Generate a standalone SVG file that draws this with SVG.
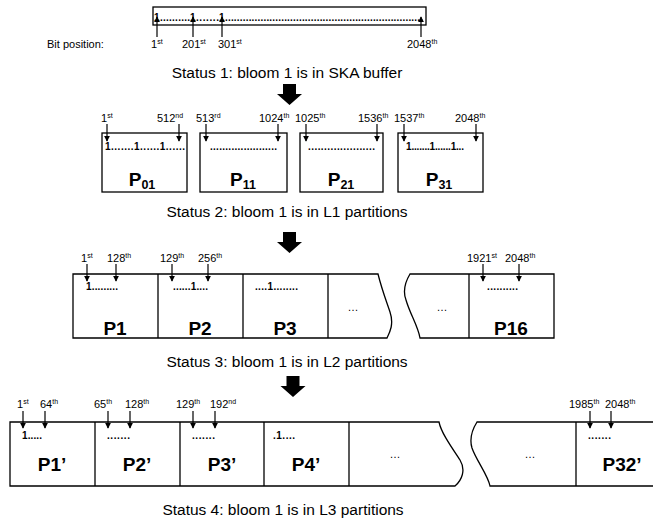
<svg xmlns="http://www.w3.org/2000/svg" width="653" height="525" viewBox="0 0 653 525">
<style>
text{font-family:"Liberation Sans",Arial,sans-serif;fill:#000}
.st{font-size:15.5px}
.lb{font-size:11px}
.sp{font-size:7px}
.dt{font-size:10px;font-weight:bold}
.p{font-size:19px;font-weight:bold}
.ps{font-size:12.5px;font-weight:bold}
.el{font-size:11px}
.box{fill:#fff;stroke:#000;stroke-width:1.3}
.ln{fill:none;stroke:#000;stroke-width:1.3}
.ar{fill:none;stroke:#000;stroke-width:1.2}
</style>
<defs>
<marker id="ah" viewBox="0 0 8 8" refX="7" refY="4" markerWidth="6" markerHeight="6" orient="auto" markerUnits="userSpaceOnUse">
<path d="M0,0 L8,4 L0,8 z" fill="#000"/>
</marker>
<polygon id="bigarrow" points="-6.5,0 6.5,0 6.5,10 12.5,10 0,21 -12.5,10 -6.5,10" fill="#000"/>
</defs>

<g id="buffer">
<rect class="box" x="153" y="7" width="273" height="18"/>
<text class="dt" x="154" y="21">1</text>
<text class="dt" x="160" y="21" textLength="30" lengthAdjust="spacing">..........</text>
<text class="dt" x="190" y="21">1</text>
<text class="dt" x="196" y="21" textLength="23" lengthAdjust="spacing">.......</text>
<text class="dt" x="219" y="21">1</text>
<text class="dt" x="225" y="21" textLength="198" lengthAdjust="spacing">...................................................................</text>
</g>

<g id="bitlabels">
<text class="lb" x="47" y="48">Bit position:</text>
<text class="lb" x="151" y="48">1<tspan class="sp" dy="-4">st</tspan></text>
<text class="lb" x="182" y="48">201<tspan class="sp" dy="-4">st</tspan></text>
<text class="lb" x="218" y="48">301<tspan class="sp" dy="-4">st</tspan></text>
<text class="lb" x="407" y="48">2048<tspan class="sp" dy="-4">th</tspan></text>
</g>

<text id="status1" class="st" x="287" y="78" text-anchor="middle">Status 1: bloom 1 is in SKA buffer</text>
<use href="#bigarrow" x="289.5" y="84"/>

<g id="L1">
<g id="P01">
<rect class="box" x="102" y="133" width="85" height="59"/>
<text class="dt" x="105" y="150" textLength="80" lengthAdjust="spacing">1.......1......1......</text>
<text class="p" x="142" y="186" text-anchor="middle">P<tspan class="ps" dy="3">01</tspan></text>
</g>
<g id="P11">
<rect class="box" x="200" y="133" width="87" height="59"/>
<text class="dt" x="210" y="150" textLength="67" lengthAdjust="spacing">......................</text>
<text class="p" x="243" y="186" text-anchor="middle">P<tspan class="ps" dy="3">11</tspan></text>
</g>
<g id="P21">
<rect class="box" x="300" y="133" width="83" height="59"/>
<text class="dt" x="308" y="150" textLength="67" lengthAdjust="spacing">.....................</text>
<text class="p" x="341" y="186" text-anchor="middle">P<tspan class="ps" dy="3">21</tspan></text>
</g>
<g id="P31">
<rect class="box" x="398" y="133" width="85" height="59"/>
<text class="dt" x="406" y="150" textLength="58" lengthAdjust="spacing">1.......1......1...</text>
<text class="p" x="439" y="186" text-anchor="middle">P<tspan class="ps" dy="3">31</tspan></text>
</g>
<text class="lb" x="101" y="122">1<tspan class="sp" dy="-4">st</tspan></text>
<text class="lb" x="157" y="122">512<tspan class="sp" dy="-4">nd</tspan></text>
<text class="lb" x="196" y="122">513<tspan class="sp" dy="-4">rd</tspan></text>
<text class="lb" x="259" y="122">1024<tspan class="sp" dy="-4">th</tspan></text>
<text class="lb" x="295" y="122">1025<tspan class="sp" dy="-4">th</tspan></text>
<text class="lb" x="358" y="122">1536<tspan class="sp" dy="-4">th</tspan></text>
<text class="lb" x="394" y="122">1537<tspan class="sp" dy="-4">th</tspan></text>
<text class="lb" x="455" y="122">2048<tspan class="sp" dy="-4">th</tspan></text>
</g>

<text id="status2" class="st" x="287" y="217" text-anchor="middle">Status 2: bloom 1 is in L1 partitions</text>
<use href="#bigarrow" x="289.5" y="232"/>

<g id="L2">
<path class="box" d="M378,274 L73,274 L73,338 L387,338 C390,332 394,324 390,312 C386,300 382,290 378,274 Z"/>
<path class="box" d="M410,274 L554,274 L554,338 L420,338 C418,326 410,314 406,300 C403,292 404,284 410,274 Z"/>
<g id="P1"><path class="ln" d="M158,274 V338"/><text class="dt" x="86" y="290" textLength="32" lengthAdjust="spacing">1.........</text><text class="p" x="115" y="335" text-anchor="middle">P1</text></g>
<g id="P2"><path class="ln" d="M243,274 V338"/><text class="dt" x="173" y="290" textLength="35" lengthAdjust="spacing">......1....</text><text class="p" x="200" y="335" text-anchor="middle">P2</text></g>
<g id="P3"><path class="ln" d="M328,274 V338"/><text class="dt" x="255" y="290" textLength="43" lengthAdjust="spacing">....1........</text><text class="p" x="285" y="335" text-anchor="middle">P3</text></g>
<g id="L2dots1"><text class="el" x="353" y="311" text-anchor="middle">…</text></g>
<g id="L2dots2"><text class="el" x="442" y="311" text-anchor="middle">…</text></g>
<g id="P16"><path class="ln" d="M469,274 V338"/><text class="dt" x="487" y="290" textLength="31" lengthAdjust="spacing">..........</text><text class="p" x="511" y="335" text-anchor="middle">P16</text></g>
<text class="lb" x="81" y="262">1<tspan class="sp" dy="-4">st</tspan></text>
<text class="lb" x="107" y="262">128<tspan class="sp" dy="-4">th</tspan></text>
<text class="lb" x="160" y="262">129<tspan class="sp" dy="-4">th</tspan></text>
<text class="lb" x="198" y="262">256<tspan class="sp" dy="-4">th</tspan></text>
<text class="lb" x="467" y="262">1921<tspan class="sp" dy="-4">st</tspan></text>
<text class="lb" x="505" y="262">2048<tspan class="sp" dy="-4">th</tspan></text>
</g>

<text id="status3" class="st" x="287" y="367" text-anchor="middle">Status 3: bloom 1 is in L2 partitions</text>
<use href="#bigarrow" x="293" y="376"/>

<g id="L3">
<path class="box" d="M439,422 L10,422 L10,486 L455,486 C462,480 466,470 460,460 C450,445 441,432 439,422 Z"/>
<path class="box" d="M477,422 L660,422 L660,486 L490,486 C488,475 476,460 472,448 C469,438 472,430 477,422 Z"/>
<g id="P1p"><path class="ln" d="M95,422 V486"/><text class="dt" x="22" y="439" textLength="20" lengthAdjust="spacing">1.....</text><text class="p" x="52" y="471" text-anchor="middle">P1’</text></g>
<g id="P2p"><path class="ln" d="M180,422 V486"/><text class="dt" x="107" y="439" textLength="23" lengthAdjust="spacing">.......</text><text class="p" x="137" y="471" text-anchor="middle">P2’</text></g>
<g id="P3p"><path class="ln" d="M264,422 V486"/><text class="dt" x="192" y="439" textLength="23" lengthAdjust="spacing">.......</text><text class="p" x="222" y="471" text-anchor="middle">P3’</text></g>
<g id="P4p"><path class="ln" d="M349,422 V486"/><text class="dt" x="273" y="439" textLength="22" lengthAdjust="spacing">.1....</text><text class="p" x="306" y="471" text-anchor="middle">P4’</text></g>
<g id="L3dots1"><text class="el" x="395" y="458" text-anchor="middle">…</text></g>
<g id="L3dots2"><text class="el" x="530" y="458" text-anchor="middle">…</text></g>
<g id="P32p"><path class="ln" d="M576,422 V486"/><text class="dt" x="588" y="439" textLength="23" lengthAdjust="spacing">.......</text><text class="p" x="622" y="471" text-anchor="middle">P32’</text></g>
<text class="lb" x="17" y="408">1<tspan class="sp" dy="-4">st</tspan></text>
<text class="lb" x="40" y="408">64<tspan class="sp" dy="-4">th</tspan></text>
<text class="lb" x="94" y="408">65<tspan class="sp" dy="-4">th</tspan></text>
<text class="lb" x="125" y="408">128<tspan class="sp" dy="-4">th</tspan></text>
<text class="lb" x="176" y="408">129<tspan class="sp" dy="-4">th</tspan></text>
<text class="lb" x="210" y="408">192<tspan class="sp" dy="-4">nd</tspan></text>
<text class="lb" x="569" y="408">1985<tspan class="sp" dy="-4">th</tspan></text>
<text class="lb" x="605" y="408">2048<tspan class="sp" dy="-4">th</tspan></text>
</g>

<text id="status4" class="st" x="283" y="515" text-anchor="middle">Status 4: bloom 1 is in L3 partitions</text>

<g id="connectors">
<path class="ar" marker-end="url(#ah)" d="M157,37 V17"/>
<path class="ar" marker-end="url(#ah)" d="M193,37 V17"/>
<path class="ar" marker-end="url(#ah)" d="M222,37 V17"/>
<path class="ar" marker-end="url(#ah)" d="M421,37 V17"/>
<path class="ar" marker-end="url(#ah)" d="M107,124 V141"/>
<path class="ar" marker-end="url(#ah)" d="M179,124 V141"/>
<path class="ar" marker-end="url(#ah)" d="M206,124 V141"/>
<path class="ar" marker-end="url(#ah)" d="M278,124 V141"/>
<path class="ar" marker-end="url(#ah)" d="M306,124 V141"/>
<path class="ar" marker-end="url(#ah)" d="M377,124 V141"/>
<path class="ar" marker-end="url(#ah)" d="M404,124 V141"/>
<path class="ar" marker-end="url(#ah)" d="M476,124 V141"/>
<path class="ar" marker-end="url(#ah)" d="M87,264 V281"/>
<path class="ar" marker-end="url(#ah)" d="M116,264 V281"/>
<path class="ar" marker-end="url(#ah)" d="M172,264 V281"/>
<path class="ar" marker-end="url(#ah)" d="M208,264 V281"/>
<path class="ar" marker-end="url(#ah)" d="M483,264 V281"/>
<path class="ar" marker-end="url(#ah)" d="M519,264 V281"/>
<path class="ar" marker-end="url(#ah)" d="M23,411 V428"/>
<path class="ar" marker-end="url(#ah)" d="M45,411 V428"/>
<path class="ar" marker-end="url(#ah)" d="M108,411 V428"/>
<path class="ar" marker-end="url(#ah)" d="M130,411 V428"/>
<path class="ar" marker-end="url(#ah)" d="M193,411 V428"/>
<path class="ar" marker-end="url(#ah)" d="M215,411 V428"/>
<path class="ar" marker-end="url(#ah)" d="M590,411 V428"/>
<path class="ar" marker-end="url(#ah)" d="M611,411 V428"/>
</g>
</svg>
